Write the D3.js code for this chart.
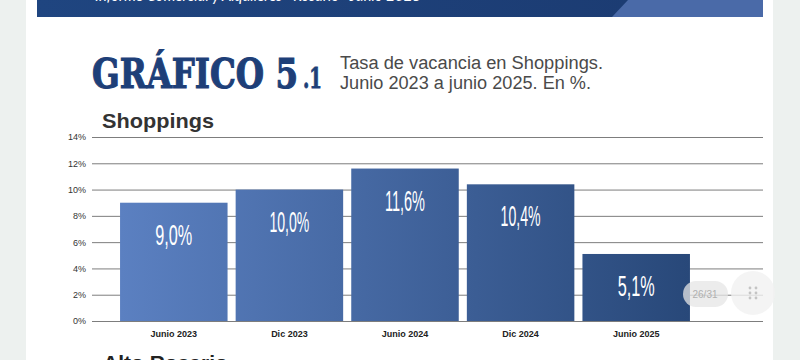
<!DOCTYPE html>
<html>
<head>
<meta charset="utf-8">
<script src="https://cdn.jsdelivr.net/npm/d3@7"></script>
<style>
  html, body { margin: 0; padding: 0; background: #edf1ef; }
  svg { display: block; }
</style>
</head>
<body>
<svg id="chart" width="800" height="360"></svg>
<script>
// ---- data ----
const categories = ["Junio 2023", "Dic 2023", "Junio 2024", "Dic 2024", "Junio 2025"];
const values = [9.0, 10.0, 11.6, 10.4, 5.1];
const yTicks = [0, 2, 4, 6, 8, 10, 12, 14];
const titleMain = "GRÁFICO 5";
const titleSub = ".1";
const subtitleLines = ["Tasa de vacancia en Shoppings.", "Junio 2023 a junio 2025. En %."];
const panelTitle = "Shoppings";
const nextPanelTitle = "Alto Rosario";
const bannerText = "Informe Comercial y Alquileres  ·  Rosario  ·  Junio 2025";

const svg = d3.select("#chart");
const W = 800, H = 360;

// page background
svg.append("rect").attr("x", 0).attr("y", 0).attr("width", W).attr("height", H).attr("fill", "#edf1ef");
svg.append("rect").attr("x", 26).attr("y", 0).attr("width", 747).attr("height", H).attr("fill", "#ffffff");

// top banner
const defs = svg.append("defs");
const bg = defs.append("linearGradient").attr("id", "bannerGrad").attr("x1", "0").attr("x2", "1").attr("y1", "0").attr("y2", "0");
bg.append("stop").attr("offset", "0").attr("stop-color", "#1f4580");
bg.append("stop").attr("offset", "1").attr("stop-color", "#1b3a70");
svg.append("rect").attr("x", 37).attr("y", 0).attr("width", 726).attr("height", 17).attr("fill", "url(#bannerGrad)");
svg.append("path").attr("d", "M612,17 L628,0 L763,0 L763,17 Z").attr("fill", "#4a6aa8");
svg.append("text").attr("x", 95).attr("y", 1).attr("fill", "#ffffff")
  .attr("font-family", "Lato, 'Open Sans', sans-serif").attr("font-size", 15).attr("font-style", "italic")
  .text(bannerText);

// title (single text element, smaller ".1")
const title = svg.append("text").attr("x", 92).attr("y", 88).attr("fill", "#1e3f78")
  .attr("stroke", "#1e3f78").attr("stroke-width", 1.2)
  .attr("font-family", "'DejaVu Serif', 'Liberation Serif', serif").attr("font-weight", "bold");
title.append("tspan").attr("font-size", 41).attr("textLength", 206).attr("lengthAdjust", "spacingAndGlyphs").text(titleMain);
title.append("tspan").attr("x", 303).attr("font-size", 27).attr("stroke-width", 0.8)
  .attr("textLength", 19).attr("lengthAdjust", "spacingAndGlyphs").text(titleSub);

// subtitle
svg.selectAll("text.sub").data(subtitleLines).join("text").attr("class", "sub")
  .attr("x", 340).attr("y", (d, i) => 69 + i * 20)
  .attr("fill", "#4a4a4a")
  .attr("font-family", "'Liberation Sans Narrow', 'Liberation Sans', Arial, sans-serif")
  .attr("font-size", 18)
  .attr("textLength", (d, i) => i === 0 ? 263 : 251).attr("lengthAdjust", "spacingAndGlyphs")
  .text(d => d);

// panel title
svg.append("text").attr("x", 102).attr("y", 128).attr("fill", "#333333")
  .attr("font-family", "'Liberation Sans', Arial, sans-serif").attr("font-weight", "bold")
  .attr("font-size", 21).attr("textLength", 112).attr("lengthAdjust", "spacingAndGlyphs")
  .text(panelTitle);

// scales
const y = d3.scaleLinear().domain([0, 14]).range([321, 137]);
const x = d3.scaleBand().domain(categories).range([116, 694]).paddingInner(0.07).paddingOuter(0.035);

// gridlines + y axis
const yAxis = d3.axisLeft(y).tickValues(yTicks).tickFormat(d => d + "%").tickSize(-(763 - 92)).tickPadding(6);
const gy = svg.append("g").attr("transform", "translate(92,0)").call(yAxis);
gy.select(".domain").remove();
gy.selectAll(".tick line").attr("stroke", "#7d7d7d").attr("stroke-width", 1);
gy.selectAll(".tick text").attr("fill", "#333333")
  .attr("font-family", "'Liberation Sans', Arial, sans-serif").attr("font-size", 9);

// bars gradient
const grad = defs.append("linearGradient").attr("id", "barGrad").attr("gradientUnits", "userSpaceOnUse")
  .attr("x1", 120).attr("x2", 690).attr("y1", 0).attr("y2", 0);
grad.append("stop").attr("offset", "0").attr("stop-color", "#5b80c1");
grad.append("stop").attr("offset", "1").attr("stop-color", "#284879");

svg.append("g").selectAll("rect").data(values).join("rect")
  .attr("x", (d, i) => x(categories[i]))
  .attr("y", d => y(d))
  .attr("width", x.bandwidth())
  .attr("height", d => y(0) - y(d))
  .attr("fill", "url(#barGrad)");

// value labels
const fmt = d => d.toFixed(1).replace(".", ",") + "%";
svg.append("g").selectAll("text").data(values).join("text")
  .attr("x", (d, i) => x(categories[i]) + x.bandwidth() / 2)
  .attr("y", d => y(d) + 42)
  .attr("text-anchor", "middle")
  .attr("fill", "#ffffff")
  .attr("font-family", "'Liberation Sans Narrow', 'Liberation Sans', sans-serif")
  .attr("font-size", 30)
  .attr("textLength", d => fmt(d).startsWith("1") ? 40 : 37)
  .attr("lengthAdjust", "spacingAndGlyphs")
  .text(fmt);

// x axis labels
svg.append("g").selectAll("text").data(categories).join("text")
  .attr("x", d => x(d) + x.bandwidth() / 2)
  .attr("y", 337)
  .attr("text-anchor", "middle")
  .attr("fill", "#222222")
  .attr("font-family", "'Liberation Sans', Arial, sans-serif")
  .attr("font-weight", "bold")
  .attr("font-size", 9)
  .text(d => d);

// next panel title (cut off at the bottom, as in the reference)
svg.append("text").attr("x", 103).attr("y", 370).attr("fill", "#222222")
  .attr("font-family", "'Liberation Sans', Arial, sans-serif").attr("font-weight", "bold")
  .attr("font-size", 21).text(nextPanelTitle);

// viewer overlay: page pill and handle
svg.append("rect").attr("x", 683).attr("y", 281).attr("width", 45).attr("height", 26).attr("rx", 13)
  .attr("fill", "#e6e6e6").attr("opacity", 0.75);
svg.append("text").attr("x", 705).attr("y", 298).attr("text-anchor", "middle").attr("fill", "#b0b0b0")
  .attr("font-family", "'Liberation Sans', Arial, sans-serif").attr("font-size", 10).text("26/31");
svg.append("circle").attr("cx", 753).attr("cy", 293).attr("r", 22).attr("fill", "#f1f1f1").attr("opacity", 0.8);
const dots = [[-3,-5],[3,-5],[-3,0],[3,0],[-3,5],[3,5]];
svg.append("g").selectAll("circle").data(dots).join("circle")
  .attr("cx", d => 753 + d[0]).attr("cy", d => 293 + d[1]).attr("r", 1.4).attr("fill", "#c4c4c4");
</script>
</body>
</html>
